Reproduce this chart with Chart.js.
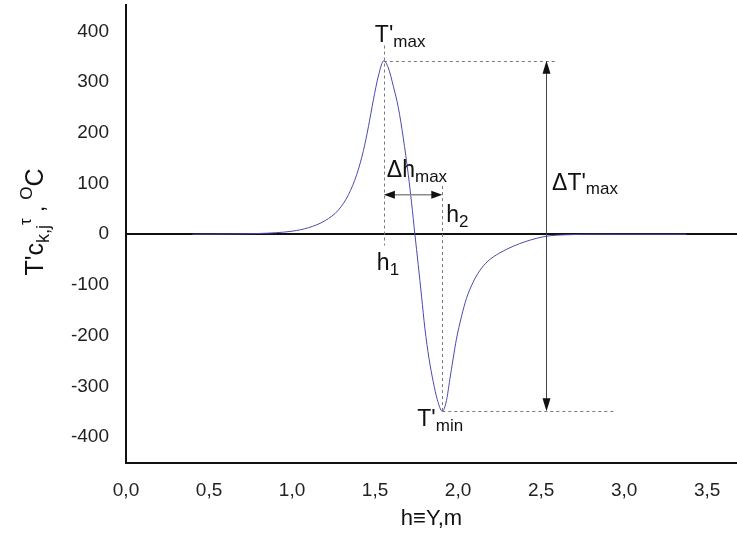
<!DOCTYPE html>
<html>
<head>
<meta charset="utf-8">
<script src="https://cdn.jsdelivr.net/npm/chart.js@4"></script>
<style>
  html, body { margin: 0; padding: 0; background: #fff; }
</style>
</head>
<body>
<canvas id="chart" width="737" height="541"></canvas>
<script>
// h, m
const hValues = [0.40, 0.60, 0.80, 0.90, 1.00, 1.10, 1.20, 1.28, 1.34, 1.39, 1.43, 1.46, 1.49, 1.52, 1.553,
                 1.58, 1.61, 1.64, 1.67, 1.70, 1.72, 1.74, 1.76, 1.78, 1.80, 1.825, 1.85, 1.875, 1.905,
                 1.93, 1.95, 1.97, 1.99, 2.02, 2.05, 2.09, 2.13, 2.18, 2.25, 2.33, 2.41, 2.53, 2.65, 2.85, 3.375];
// T'c, deg C
const tValues = [0, 0.5, 1.5, 3, 6, 13, 27, 48, 78, 118, 165, 212, 265, 312, 342,
                 328, 292, 250, 190, 118, 62, 0, -60, -122, -185, -245, -290, -326, -349,
                 -328, -287, -246, -207, -163, -127, -95, -72, -53, -37, -24, -14, -4, -1, 0, 0];

const xTickValues = [0, 0.5, 1.0, 1.5, 2.0, 2.5, 3.0, 3.5];
const yTickValues = [-400, -300, -200, -100, 0, 100, 200, 300, 400];

const hPeak = 1.553, tPeak = 342;
const hTrough = 1.905, tTrough = -349;
const arrowH = 2.53;       // position of the ΔT'max arrow
const arrowT = 78;         // level of the Δh_max arrow

const FONT = "'Liberation Sans', Arial, sans-serif";

function drawRich(ctx, parts, x, y, align) {
    let w = 0;
    parts.forEach(p => {
        ctx.font = p[1] + "px " + FONT;
        w += ctx.measureText(p[0]).width;
    });
    let cx = align === "center" ? x - w / 2 : x;
    parts.forEach(p => {
        ctx.font = p[1] + "px " + FONT;
        ctx.fillText(p[0], cx, y + p[2]);
        cx += ctx.measureText(p[0]).width;
    });
}

function arrowHead(ctx, x, y, dx, dy, len, half) {
    ctx.beginPath();
    ctx.moveTo(x, y);
    ctx.lineTo(x - dx * len - dy * half, y - dy * len - dx * half);
    ctx.lineTo(x - dx * len + dy * half, y - dy * len + dx * half);
    ctx.closePath();
    ctx.fill();
}

const annotations = {
    id: "annotations",
    afterDatasetsDraw(chart) {
        const ctx = chart.ctx;
        const xs = chart.scales.x, ys = chart.scales.y;
        const px = v => xs.getPixelForValue(v);
        const py = v => ys.getPixelForValue(v);

        const x1 = px(hPeak), y1 = py(tPeak);
        const x2 = px(hTrough), y2 = py(tTrough);
        const xa = px(arrowH), ya = py(arrowT);

        ctx.save();
        // dashed guides
        ctx.strokeStyle = "#7a7a7a";
        ctx.lineWidth = 1;
        ctx.setLineDash([3, 3]);
        ctx.beginPath();
        ctx.moveTo(Math.round(x1) + 0.5, py(372));
        ctx.lineTo(Math.round(x1) + 0.5, py(-22));
        ctx.moveTo(x1, Math.round(y1) + 0.5);
        ctx.lineTo(px(2.6), Math.round(y1) + 0.5);
        ctx.moveTo(Math.round(x2) + 0.5, py(95));
        ctx.lineTo(Math.round(x2) + 0.5, y2);
        ctx.moveTo(x2, Math.round(y2) + 0.5);
        ctx.lineTo(px(2.95), Math.round(y2) + 0.5);
        ctx.stroke();
        ctx.setLineDash([]);

        // ΔT'max arrow
        ctx.strokeStyle = "#444";
        ctx.fillStyle = "#111";
        ctx.beginPath();
        ctx.moveTo(Math.round(xa) + 0.5, y1 + 10);
        ctx.lineTo(Math.round(xa) + 0.5, y2 - 10);
        ctx.stroke();
        arrowHead(ctx, Math.round(xa) + 0.5, y1, 0, -1, 13, 4);
        arrowHead(ctx, Math.round(xa) + 0.5, y2, 0, 1, 13, 4);

        // Δh arrow
        ctx.strokeStyle = "#8a8a8a";
        ctx.lineWidth = 1.5;
        ctx.beginPath();
        ctx.moveTo(x1 + 8, ya);
        ctx.lineTo(x2 - 8, ya);
        ctx.stroke();
        arrowHead(ctx, x1, ya, -1, 0, 11, 4);
        arrowHead(ctx, x2, ya, 1, 0, 11, 4);

        // labels
        ctx.fillStyle = "#111";
        ctx.textAlign = "left";
        ctx.textBaseline = "alphabetic";
        drawRich(ctx, [["T'", 23, 0], ["max", 17, 5]], x1 - 9, y1 - 19);
        drawRich(ctx, [["\u0394h", 23, 0], ["max", 17, 5]], x1 + 3, ya - 18);
        drawRich(ctx, [["h", 23, 0], ["2", 17, 5]], x2 + 4, ya + 27);
        drawRich(ctx, [["\u0394T'", 23, 0], ["max", 17, 4]], xa + 6, py(88));
        drawRich(ctx, [["h", 23, 0], ["1", 17, 5]], x1 - 7, py(-70));
        drawRich(ctx, [["T'", 23, 0], ["min", 17, 5]], x2 - 25, y2 + 15);

        // axis titles
        drawRich(ctx, [["h\u2261Y,m", 22, 0]], (chart.chartArea.left + chart.chartArea.right) / 2, 525, "center");
        ctx.translate(43, 222);
        ctx.rotate(-Math.PI / 2);
        drawRich(ctx, [["T'c", 25, 0], ["k,j", 18, 6], ["\u03c4", 17, -12], [" , ", 22, 1], ["O", 17, -11], ["C", 25, 0]], 0, 0, "center");
        ctx.restore();
    }
};

const ctx = document.getElementById("chart").getContext("2d");

new Chart(ctx, {
    type: "line",
    data: {
        datasets: [
            {
                data: hValues.map((h, i) => ({ x: h, y: tValues[i] })),
                borderColor: "#4a4ab0",
                borderWidth: 1,
                pointRadius: 0,
                fill: false,
                cubicInterpolationMode: "monotone"
            }
        ]
    },
    options: {
        responsive: false,
        animation: false,
        devicePixelRatio: 1,
        layout: { padding: { top: 5, right: 0, left: 0, bottom: 0 } },
        plugins: {
            legend: { display: false },
            tooltip: { enabled: false }
        },
        scales: {
            x: {
                type: "linear",
                min: 0,
                max: 3.68,
                afterBuildTicks: scale => { scale.ticks = xTickValues.map(v => ({ value: v })); },
                afterFit: scale => {
                    scale.height = 78;
                    scale.paddingLeft = 0;
                    scale.paddingRight = 0;
                },
                grid: { display: false, drawTicks: false },
                border: { display: true, color: "#111", width: 2 },
                ticks: {
                    padding: 16,
                    color: "#222",
                    font: { family: FONT, size: 19 },
                    maxRotation: 0,
                    autoSkip: false,
                    callback: v => v.toFixed(1).replace(".", ",")
                }
            },
            y: {
                min: -451,
                max: 452,
                afterBuildTicks: scale => { scale.ticks = yTickValues.map(v => ({ value: v })); },
                afterFit: scale => {
                    scale.width = 126;
                    scale.paddingTop = 0;
                    scale.paddingBottom = 0;
                },
                grid: {
                    drawTicks: false,
                    color: c => (c.tick && c.tick.value === 0 ? "#111" : "rgba(0,0,0,0)"),
                    lineWidth: c => (c.tick && c.tick.value === 0 ? 2 : 0)
                },
                border: { display: true, color: "#111", width: 2 },
                ticks: {
                    padding: 17,
                    color: "#222",
                    font: { family: FONT, size: 19 },
                    autoSkip: false,
                    callback: v => String(v)
                }
            }
        }
    },
    plugins: [annotations]
});
</script>
</body>
</html>
